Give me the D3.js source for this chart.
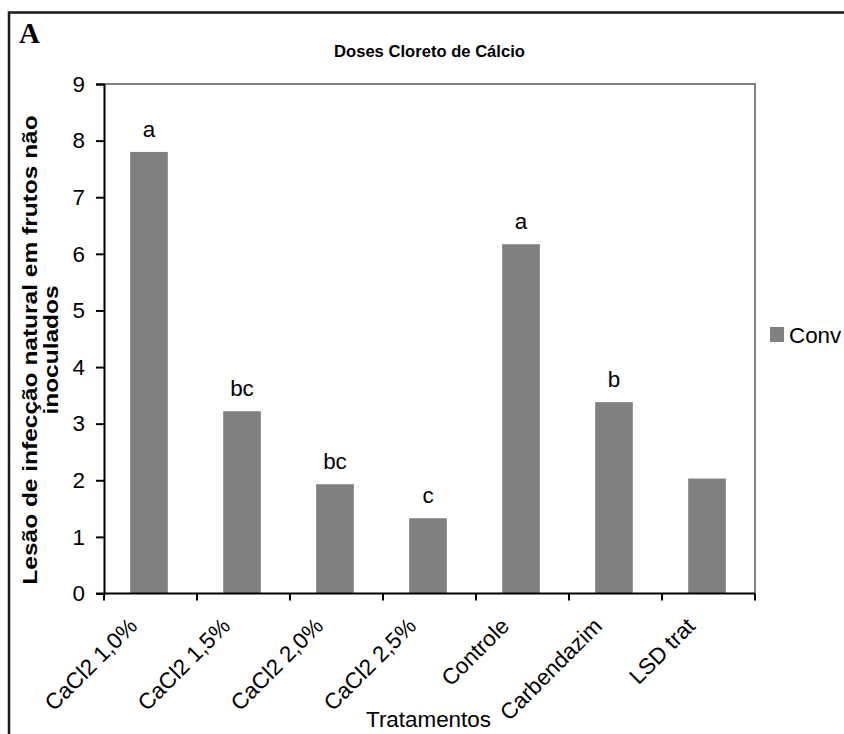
<!DOCTYPE html>
<html>
<head>
<meta charset="utf-8">
<script src="https://cdn.jsdelivr.net/npm/d3@7"></script>
<style>
  html, body { margin: 0; padding: 0; background: #fff; }
  svg { display: block; font-family: Arial, "Liberation Sans", sans-serif; }
</style>
</head>
<body>
<svg id="chart" width="844" height="734"></svg>
<script>
// Treatments and mean lesion counts (series "Conv")
const categories = ["CaCl2 1,0%", "CaCl2 1,5%", "CaCl2 2,0%", "CaCl2 2,5%", "Controle", "Carbendazim", "LSD trat"];
const values = [7.8, 3.22, 1.93, 1.33, 6.17, 3.38, 2.03];
const letters = ["a", "bc", "bc", "c", "a", "b", ""];
const yTicks = [0, 1, 2, 3, 4, 5, 6, 7, 8, 9];
const seriesName = "Conv";

const svg = d3.select("#chart");
const fs = 22.4;

const plot = { left: 104, right: 755, top: 84, bottom: 593.5 };

const x = d3.scaleBand().domain(categories).range([plot.left, plot.right]).padding(0);
const y = d3.scaleLinear().domain([0, 9]).range([plot.bottom, plot.top]);

// Outer frame
svg.append("path")
  .attr("d", `M9,740 L9,12.5 L850,12.5`)
  .attr("fill", "none")
  .attr("stroke", "#1a1a1a")
  .attr("stroke-width", 2.5);

// Panel letter
svg.append("text")
  .attr("x", 19).attr("y", 43)
  .attr("font-family", "'Times New Roman', 'Liberation Serif', serif")
  .attr("font-weight", "bold")
  .attr("font-size", 29)
  .text("A");

// Title
svg.append("text")
  .attr("x", (plot.left + plot.right) / 2).attr("y", 57)
  .attr("text-anchor", "middle")
  .attr("font-weight", "bold")
  .attr("font-size", 16.6)
  .text("Doses Cloreto de Cálcio");

// Plot area border (top and right)
svg.append("path")
  .attr("d", `M${plot.left},${plot.top} L${plot.right},${plot.top} L${plot.right},${plot.bottom}`)
  .attr("fill", "none")
  .attr("stroke", "#808080")
  .attr("stroke-width", 2);

// Bars
const barW = x.bandwidth() * 0.405;
const rows = categories.map((c, i) => ({ c, v: values[i], l: letters[i] }));
svg.append("g").selectAll("rect")
  .data(rows)
  .join("rect")
  .attr("x", d => x(d.c) + x.bandwidth() / 2 - barW / 2 - 1.5)
  .attr("width", barW)
  .attr("y", d => y(d.v))
  .attr("height", d => y(0) - y(d.v))
  .attr("fill", "#808080");

// Significance letters above bars
svg.append("g").selectAll("text")
  .data(rows)
  .join("text")
  .attr("x", d => x(d.c) + x.bandwidth() / 2 - 1.5)
  .attr("y", d => y(d.v) - 15)
  .attr("text-anchor", "middle")
  .attr("font-size", fs)
  .attr("fill", "#000")
  .text(d => d.l);

// Y axis
const yAxis = svg.append("g")
  .attr("transform", `translate(${plot.left},0)`)
  .call(d3.axisLeft(y).tickValues(yTicks).tickSize(8).tickPadding(11).tickFormat(d3.format("d")));
yAxis.selectAll("path, line").attr("stroke", "#000").attr("stroke-width", 2);
yAxis.selectAll("text").attr("font-size", fs).attr("fill", "#000")
  .attr("font-family", "Arial, 'Liberation Sans', sans-serif");

// X axis: baseline with ticks on category boundaries
const xAxisG = svg.append("g").attr("transform", `translate(0,${plot.bottom})`);
xAxisG.append("line")
  .attr("x1", plot.left - 8).attr("x2", plot.right)
  .attr("stroke", "#000").attr("stroke-width", 2);
const boundaries = categories.map(c => x(c)).concat([plot.right]);
xAxisG.selectAll("line.tick")
  .data(boundaries)
  .join("line")
  .attr("class", "tick")
  .attr("x1", d => d).attr("x2", d => d)
  .attr("y1", 0).attr("y2", 7)
  .attr("stroke", "#000").attr("stroke-width", 2);

// Rotated category labels
xAxisG.selectAll("text.cat")
  .data(categories)
  .join("text")
  .attr("class", "cat")
  .attr("text-anchor", "end")
  .attr("font-size", fs)
  .attr("transform", d => `translate(${x(d) + x.bandwidth() / 2 - 12},${34}) rotate(-45)`)
  .text(d => d);

// X axis title
svg.append("text")
  .attr("x", (plot.left + plot.right) / 2 - 1).attr("y", 727)
  .attr("text-anchor", "middle")
  .attr("font-size", fs)
  .text("Tratamentos");

// Y axis title (two lines, glyphs slightly narrowed across the baseline)
const yTitle = svg.append("text")
  .attr("transform", `translate(37,350) rotate(-90) scale(1,0.85)`)
  .attr("text-anchor", "middle")
  .attr("font-weight", "bold")
  .attr("font-size", 24.5);
yTitle.append("tspan").attr("x", 0).attr("dy", 0).text("Lesão de infecção natural em frutos não");
yTitle.append("tspan").attr("x", 0).attr("dy", 25).text("inoculados");

// Legend
const legend = svg.append("g").attr("transform", "translate(770,327)");
legend.append("rect").attr("width", 14).attr("height", 15).attr("fill", "#808080");
legend.append("text").attr("x", 19).attr("y", 16).attr("font-size", fs).text(seriesName);
</script>
</body>
</html>
